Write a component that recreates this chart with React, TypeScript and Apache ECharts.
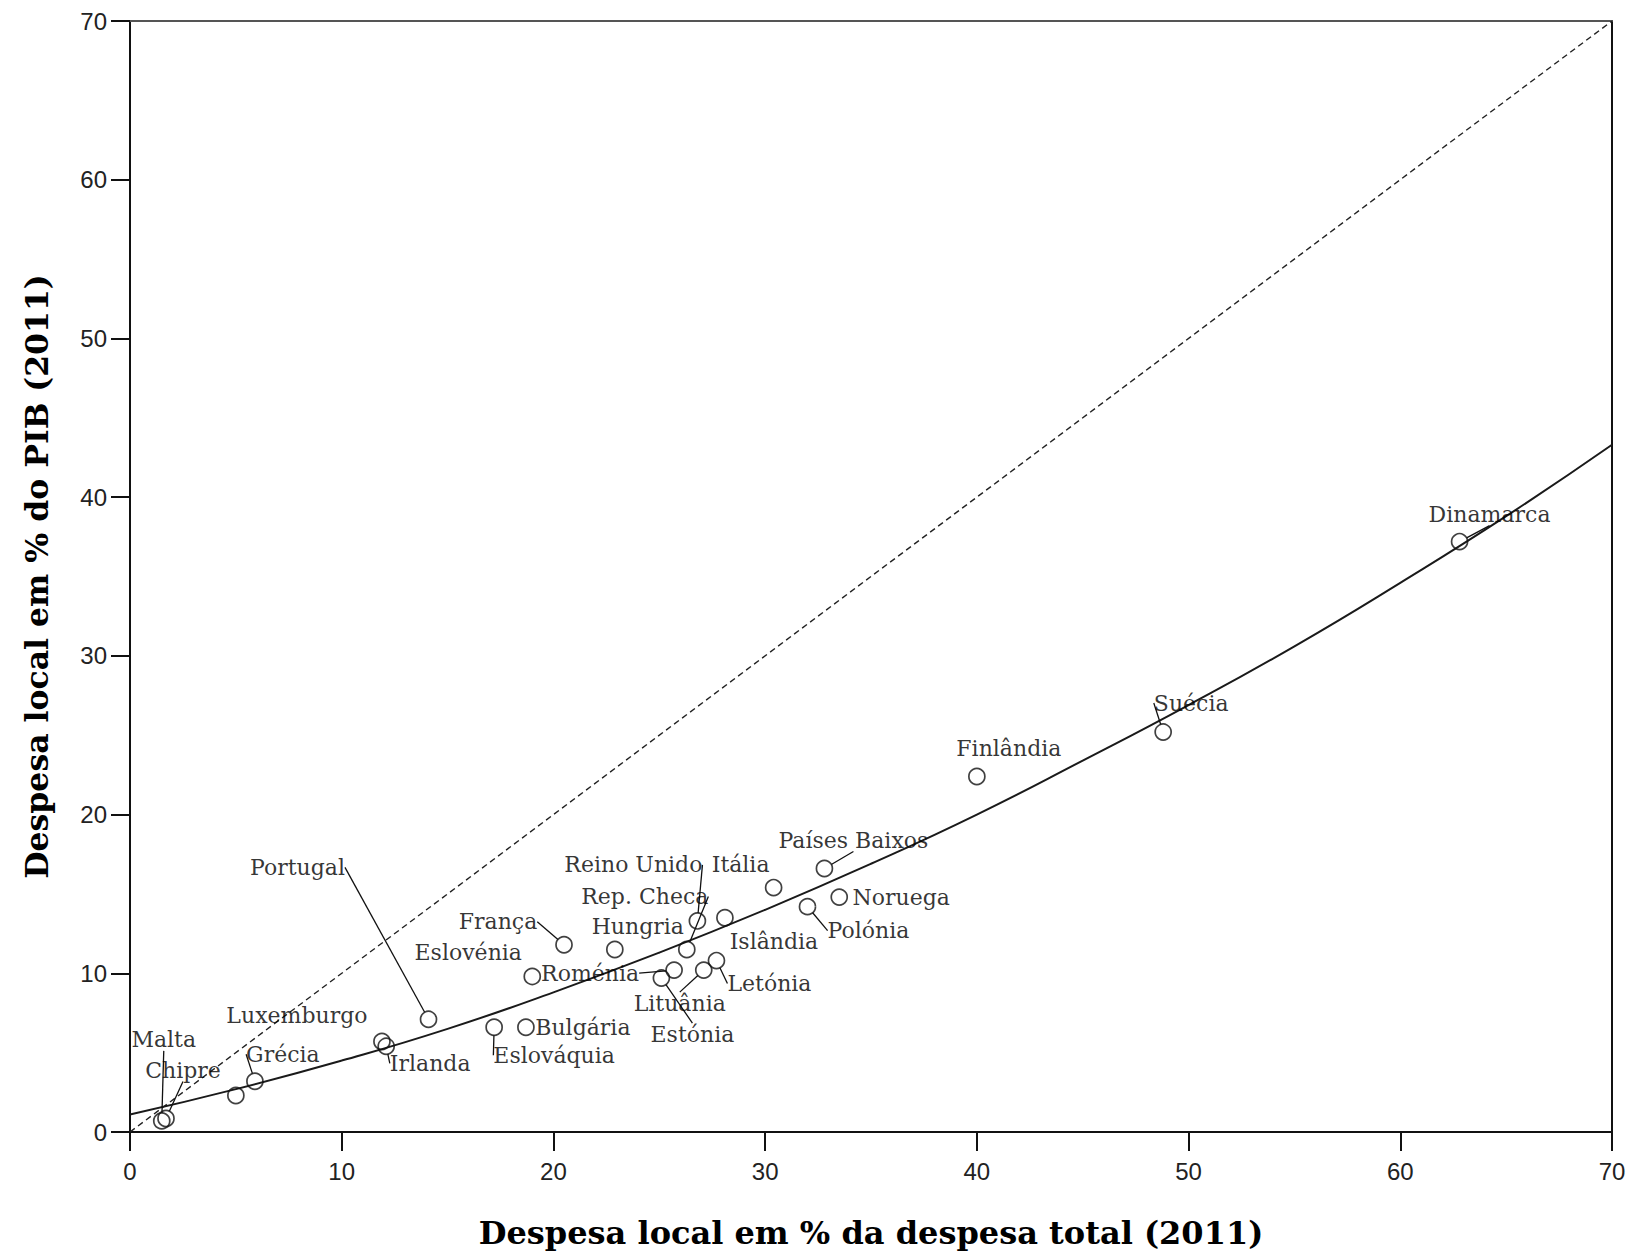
import React, { useEffect, useRef } from 'react';
import * as echarts from 'echarts';

// ---- Data ----
const countries = [
  'Malta', 'Chipre', 'Grécia', 'Luxemburgo', 'Irlanda', 'Portugal', 'Eslovénia', 'França',
  'Roménia', 'Hungria', 'Rep. Checa', 'Reino Unido', 'Itália', 'Países Baixos', 'Noruega',
  'Polónia', 'Islândia', 'Letónia', 'Lituânia', 'Estónia', 'Bulgária', 'Eslováquia',
  'Finlândia', 'Suécia', 'Dinamarca', '',
];
// Despesa local em % da despesa total (2011)
const shareOfTotal = [
  1.5, 1.7, 5.9, 11.9, 12.1, 14.1, 19.0, 20.5,
  25.7, 22.9, 26.3, 26.8, 30.4, 32.8, 33.5,
  32.0, 28.1, 27.7, 27.1, 25.1, 18.7, 17.2,
  40.0, 48.8, 62.8, 5.0,
];
// Despesa local em % do PIB (2011)
const shareOfGDP = [
  0.7, 0.85, 3.2, 5.7, 5.4, 7.1, 9.8, 11.8,
  10.2, 11.5, 11.5, 13.3, 15.4, 16.6, 14.8,
  14.2, 13.5, 10.8, 10.2, 9.7, 6.6, 6.6,
  22.4, 25.2, 37.2, 2.3,
];
// Fitted curve
const fitX = [0, 5, 10, 15, 20, 25, 30, 35, 40, 45, 50, 55, 60, 65, 70];
const fitY = [1.1, 2.7, 4.5, 6.5, 8.8, 11.3, 14.0, 16.9, 20.0, 23.4, 26.9, 30.6, 34.6, 38.8, 43.3];
// Reference line y = x
const diagonalX = [0, 70];
const diagonalY = [0, 70];
const axisMin = 0;
const axisMax = 70;
const axisStep = 10;

// ---- Label placement (pixels, relative to the point) ----
const labelOffsets: Record<string, [number, number]> = {
  'Malta': [2, -81],
  'Chipre': [17, -48],
  'Grécia': [28, -27],
  'Luxemburgo': [-85, -26],
  'Irlanda': [44, 17],
  'Portugal': [-131, -152],
  'Eslovénia': [-64, -24],
  'França': [-66, -23],
  'Roménia': [-84, 3],
  'Hungria': [23, -23],
  'Rep. Checa': [-42, -53],
  'Reino Unido': [-64, -56],
  'Itália': [-33, -23],
  'Países Baixos': [29, -28],
  'Noruega': [62, 0],
  'Polónia': [61, 24],
  'Islândia': [49, 24],
  'Letónia': [53, 23],
  'Lituânia': [-24, 33],
  'Estónia': [31, 56],
  'Bulgária': [57, 0],
  'Eslováquia': [60, 28],
  'Finlândia': [32, -28],
  'Suécia': [28, -29],
  'Dinamarca': [30, -27],
};
// Labels drawn without a leader line
const noLeader = ['Luxemburgo', 'Eslovénia', 'Hungria', 'Itália', 'Islândia', 'Noruega', 'Bulgária', 'Finlândia'];

export default function App() {
  const ref = useRef<HTMLDivElement>(null);

  useEffect(() => {
    if (!ref.current) return;
    const chart = echarts.init(ref.current, undefined, { renderer: 'svg' });

    const scatterData = countries.map((name, i) => ({
      name,
      value: [shareOfTotal[i], shareOfGDP[i]],
      label: { show: name !== '' },
      labelLine: { show: name !== '' && noLeader.indexOf(name) < 0 },
    }));

    const ink = '#111';
    const axisCommon = {
      type: 'value' as const,
      min: axisMin,
      max: axisMax,
      interval: axisStep,
      splitLine: { show: false },
    };

    const option = {
      animation: false,
      backgroundColor: '#ffffff',
      grid: { left: 130, right: 21, top: 21, bottom: 128 },
      xAxis: [
        {
          ...axisCommon,
          position: 'bottom',
          name: 'Despesa local em % da despesa total (2011)',
          nameLocation: 'middle',
          nameGap: 85,
          nameTextStyle: { fontFamily: 'DejaVu Serif', fontWeight: 'bold', fontSize: 32, color: '#000' },
          axisLine: { show: true, onZero: false, lineStyle: { color: ink, width: 2 } },
          axisTick: { show: true, inside: false, length: 19, lineStyle: { color: ink, width: 2 } },
          axisLabel: { margin: 27, fontFamily: 'Liberation Sans', fontSize: 24, color: '#222' },
        },
        {
          ...axisCommon,
          position: 'top',
          axisLine: { show: true, onZero: false, lineStyle: { color: '#555', width: 2 } },
          axisTick: { show: false },
          axisLabel: { show: false },
        },
      ],
      yAxis: [
        {
          ...axisCommon,
          position: 'left',
          name: 'Despesa local em % do PIB (2011)',
          nameLocation: 'middle',
          nameGap: 78,
          nameTextStyle: { fontFamily: 'DejaVu Serif', fontWeight: 'bold', fontSize: 31.5, color: '#000' },
          axisLine: { show: true, onZero: false, lineStyle: { color: ink, width: 2 } },
          axisTick: { show: true, inside: false, length: 19, lineStyle: { color: ink, width: 2 } },
          axisLabel: { margin: 23, fontFamily: 'Liberation Sans', fontSize: 24, color: '#222' },
        },
        {
          ...axisCommon,
          position: 'right',
          axisLine: { show: true, onZero: false, lineStyle: { color: ink, width: 2 } },
          axisTick: { show: false },
          axisLabel: { show: false },
        },
      ],
      series: [
        {
          type: 'line',
          xAxisIndex: 0,
          yAxisIndex: 0,
          data: diagonalX.map((x, i) => [x, diagonalY[i]]),
          symbol: 'none',
          silent: true,
          lineStyle: { color: '#222', width: 1.4, type: [6, 4] },
        },
        {
          type: 'line',
          xAxisIndex: 0,
          yAxisIndex: 0,
          data: fitX.map((x, i) => [x, fitY[i]]),
          symbol: 'none',
          smooth: true,
          silent: true,
          lineStyle: { color: '#1a1a1a', width: 2 },
        },
        {
          type: 'scatter',
          xAxisIndex: 0,
          yAxisIndex: 0,
          data: scatterData,
          symbol: 'circle',
          symbolSize: 16,
          itemStyle: { color: 'rgba(0,0,0,0)', borderColor: ink, borderWidth: 1.7 },
          label: {
            show: true,
            position: 'inside',
            formatter: '{b}',
            fontFamily: 'DejaVu Serif',
            fontSize: 22,
            color: '#000',
          },
          labelLine: { show: true, lineStyle: { color: ink, width: 1.3 } },
          labelLayout: (params: any) => {
            const name = countries[params.dataIndex];
            const off = labelOffsets[name] || [0, 0];
            return { dx: off[0], dy: off[1] };
          },
          z: 5,
        },
      ],
    };

    chart.setOption(option as any);
    return () => chart.dispose();
  }, []);

  return (
    <div
      ref={ref}
      style={{ position: 'fixed', left: 0, top: 0, width: 1633, height: 1260, background: '#fff' }}
    />
  );
}
